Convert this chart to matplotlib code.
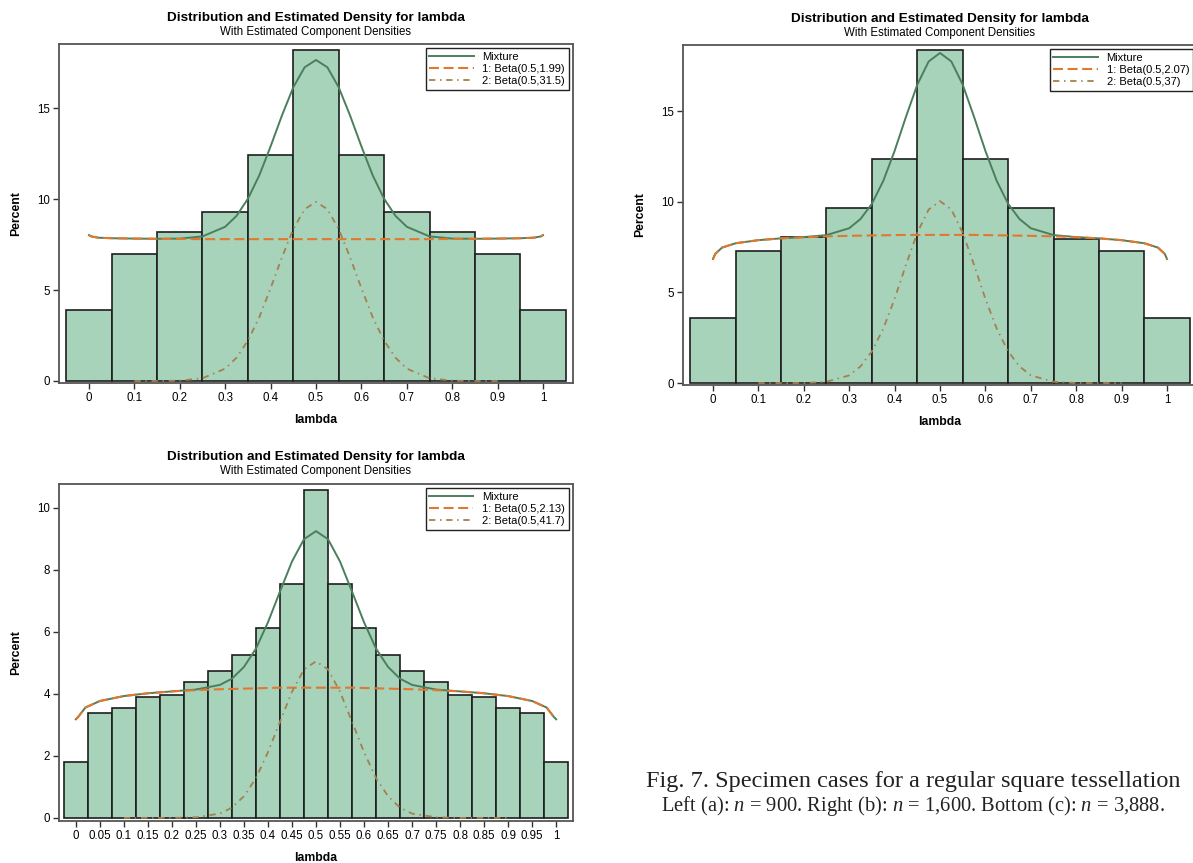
import numpy as np
import matplotlib
matplotlib.use("Agg")
from matplotlib import pyplot as plt

plt.rcParams['font.family'] = ['Liberation Sans', 'DejaVu Sans']
plt.rcParams['mathtext.fontset'] = 'custom'
plt.rcParams['mathtext.it'] = 'Liberation Serif:italic'
plt.rcParams['mathtext.rm'] = 'Liberation Serif'

# histogram bins (midpoints) and bar heights, in percent
mid_ab = [0, 0.1, 0.2, 0.3, 0.4, 0.5, 0.6, 0.7, 0.8, 0.9, 1.0]
mid_c = [0, 0.05, 0.1, 0.15, 0.2, 0.25, 0.3, 0.35, 0.4, 0.45, 0.5,
         0.55, 0.6, 0.65, 0.7, 0.75, 0.8, 0.85, 0.9, 0.95, 1.0]
pct_a = [3.88, 7.0, 8.2, 9.3, 12.44, 18.2, 12.44, 9.3, 8.2, 7.0, 3.88]
pct_b = [3.6, 7.28, 8.05, 9.67, 12.36, 18.42, 12.36, 9.67, 7.97, 7.28, 3.6]
pct_c = [1.81, 3.39, 3.54, 3.90, 3.97, 4.39, 4.75, 5.24, 6.11, 7.56, 10.59,
         7.56, 6.11, 5.24, 4.75, 4.39, 3.97, 3.90, 3.54, 3.39, 1.81]

# density curves at these lambda values
lam = [0, 0.005, 0.02, 0.05, 0.1, 0.15, 0.2, 0.25, 0.3, 0.325, 0.35, 0.375,
       0.4, 0.425, 0.45, 0.475, 0.5, 0.525, 0.55, 0.575, 0.6, 0.625, 0.65,
       0.675, 0.7, 0.75, 0.8, 0.85, 0.9, 0.95, 0.98, 0.995, 1.0]

mix_a = [8.02, 7.95, 7.88, 7.85, 7.83, 7.82, 7.83, 7.95, 8.48, 9.08, 10.02, 11.30,
         12.90, 14.60, 16.15, 17.25, 17.65, 17.25, 16.15, 14.60, 12.90, 11.30, 10.02,
         9.08, 8.48, 7.95, 7.83, 7.82, 7.83, 7.85, 7.88, 7.95, 8.02]
c1_a = [8.02, 7.95, 7.88, 7.85, 7.83, 7.82, 7.81, 7.80, 7.80, 7.80, 7.80, 7.80,
        7.80, 7.80, 7.80, 7.80, 7.80, 7.80, 7.80, 7.80, 7.80, 7.80, 7.80,
        7.80, 7.80, 7.80, 7.81, 7.82, 7.83, 7.85, 7.88, 7.95, 8.02]
c2_a = [0, 0, 0, 0, 0, 0, 0.02, 0.15, 0.68, 1.28, 2.22, 3.50,
        5.10, 6.80, 8.35, 9.45, 9.85, 9.45, 8.35, 6.80, 5.10, 3.50, 2.22,
        1.28, 0.68, 0.15, 0.02, 0, 0, 0, 0, 0, 0]

mix_b = [6.85, 7.13, 7.48, 7.72, 7.89, 7.99, 8.06, 8.17, 8.55, 9.06, 9.90, 11.16,
         12.82, 14.70, 16.48, 17.76, 18.23, 17.76, 16.48, 14.70, 12.82, 11.16, 9.90,
         9.06, 8.55, 8.17, 8.06, 7.99, 7.89, 7.72, 7.48, 7.13, 6.85]
c1_b = [6.85, 7.13, 7.48, 7.72, 7.89, 7.99, 8.05, 8.10, 8.13, 8.14, 8.15, 8.16,
        8.17, 8.18, 8.18, 8.18, 8.18, 8.18, 8.18, 8.18, 8.17, 8.16, 8.15,
        8.14, 8.13, 8.10, 8.05, 7.99, 7.89, 7.72, 7.48, 7.13, 6.85]
c2_b = [0, 0, 0, 0, 0, 0, 0, 0.07, 0.42, 0.92, 1.75, 3.00,
        4.65, 6.52, 8.30, 9.58, 10.05, 9.58, 8.30, 6.52, 4.65, 3.00, 1.75,
        0.92, 0.42, 0.07, 0, 0, 0, 0, 0, 0, 0]

mix_c = [3.18, 3.26, 3.56, 3.77, 3.93, 4.02, 4.08, 4.14, 4.29, 4.49, 4.87, 5.46,
         6.31, 7.30, 8.27, 8.99, 9.25, 8.99, 8.27, 7.30, 6.31, 5.46, 4.87,
         4.49, 4.29, 4.14, 4.08, 4.02, 3.93, 3.77, 3.56, 3.26, 3.18]
c1_c = [3.18, 3.26, 3.56, 3.77, 3.93, 4.02, 4.08, 4.12, 4.15, 4.16, 4.17, 4.18,
        4.19, 4.20, 4.20, 4.20, 4.20, 4.20, 4.20, 4.20, 4.19, 4.18, 4.17,
        4.16, 4.15, 4.12, 4.08, 4.02, 3.93, 3.77, 3.56, 3.26, 3.18]
c2_c = [0, 0, 0, 0, 0, 0, 0, 0.02, 0.14, 0.33, 0.70, 1.28,
        2.12, 3.10, 4.07, 4.79, 5.05, 4.79, 4.07, 3.10, 2.12, 1.28, 0.70,
        0.33, 0.14, 0.02, 0, 0, 0, 0, 0, 0, 0]

legend_a = ["Mixture", "1: Beta(0.5,1.99)", "2: Beta(0.5,31.5)"]
legend_b = ["Mixture", "1: Beta(0.5,2.07)", "2: Beta(0.5,37)"]
legend_c = ["Mixture", "1: Beta(0.5,2.13)", "2: Beta(0.5,41.7)"]

ticks_ab = ["0", "0.1", "0.2", "0.3", "0.4", "0.5", "0.6", "0.7", "0.8", "0.9", "1"]
ticks_c = ["0", "0.05", "0.1", "0.15", "0.2", "0.25", "0.3", "0.35", "0.4", "0.45", "0.5",
           "0.55", "0.6", "0.65", "0.7", "0.75", "0.8", "0.85", "0.9", "0.95", "1"]

BAR = "#a7d3bb"
GREEN = "#4a7f5c"
ORANGE = "#e0782f"
BROWN = "#a5804f"

W, H = 1193, 863
fig = plt.figure(figsize=(W / 100, H / 100), dpi=100)


def px_axes(l, t, r, b):
    return fig.add_axes([l / W, 1 - b / H, (r - l) / W, (b - t) / H])


def panel(box, mids, pcts, width, mix, c1, c2, labels, ticks, xlim, ylim, yticks, title_y):
    ax = px_axes(*box)
    ax.bar(mids, pcts, width=width, color=BAR, edgecolor="#1e1e1e", linewidth=1.2, zorder=1)
    x = np.array(lam)
    m = (x >= 0.1) & (x <= 0.9)
    ax.plot(x, mix, color=GREEN, lw=1.4, label=labels[0], zorder=3)
    ax.plot(x, c1, color=ORANGE, lw=1.5, dashes=(4.8, 2.2), label=labels[1], zorder=4)
    ax.plot(x[m], np.array(c2)[m], color=BROWN, lw=1.3, dashes=(3.5, 2.6, 0.8, 2.6),
            label=labels[2], zorder=4)
    ax.set_xlim(*xlim)
    ax.set_ylim(*ylim)
    ax.set_xticks(mids)
    ax.set_xticklabels(ticks)
    ax.set_yticks(yticks)
    ax.tick_params(direction="out", length=4, width=1, colors="#333333", labelsize=8.3,
                   labelcolor="black", pad=2.5)
    for s in ax.spines.values():
        s.set_color("#555555")
        s.set_linewidth(1.3)
    ax.set_ylabel("Percent", fontsize=8.8, fontweight="bold")
    ax.yaxis.set_label_coords(-0.072, 0.5)
    ax.set_xlabel("lambda", fontsize=8.8, fontweight="bold")
    ax.xaxis.set_label_coords(0.5, -0.092)
    leg = ax.legend(loc="upper right", fontsize=8, frameon=True, fancybox=False,
                    framealpha=1, edgecolor="#222222", handlelength=4.0, labelspacing=0.2,
                    borderpad=0.3, handletextpad=0.8, borderaxespad=0.4)
    leg.get_frame().set_linewidth(1.0)
    cx = (box[0] + box[2]) / 2
    fig.text(cx / W, 1 - title_y / H, "Distribution and Estimated Density for lambda",
             ha="center", va="center", fontsize=9.7, fontweight="bold")
    fig.text(cx / W, 1 - (title_y + 14) / H, "With Estimated Component Densities",
             ha="center", va="center", fontsize=8.3)
    return ax


panel((59, 44, 573, 383), mid_ab, pct_a, 0.1, mix_a, c1_a, c2_a, legend_a, ticks_ab,
      (-0.066, 1.066), (-0.11, 18.53), [0, 5, 10, 15], 18)
panel((683, 45, 1197, 385), mid_ab, pct_b, 0.1, mix_b, c1_b, c2_b, legend_b, ticks_ab,
      (-0.066, 1.066), (-0.11, 18.67), [0, 5, 10, 15], 19)
panel((59, 484, 573, 821), mid_c, pct_c, 0.05, mix_c, c1_c, c2_c, legend_c, ticks_c,
      (-0.035, 1.035), (-0.1, 10.77), [0, 2, 4, 6, 8, 10], 457)

fig.text(913 / W, 1 - 781 / H, "Fig. 7. Specimen cases for a regular square tessellation",
         ha="center", va="center", fontsize=17.5, family="Liberation Serif", color="#222222")
fig.text(913 / W, 1 - 806 / H,
         "Left (a): $n$ = 900. Right (b): $n$ = 1,600. Bottom (c): $n$ = 3,888.",
         ha="center", va="center", fontsize=14.8, family="Liberation Serif", color="#222222")

fig.savefig("out.png", dpi=100)
